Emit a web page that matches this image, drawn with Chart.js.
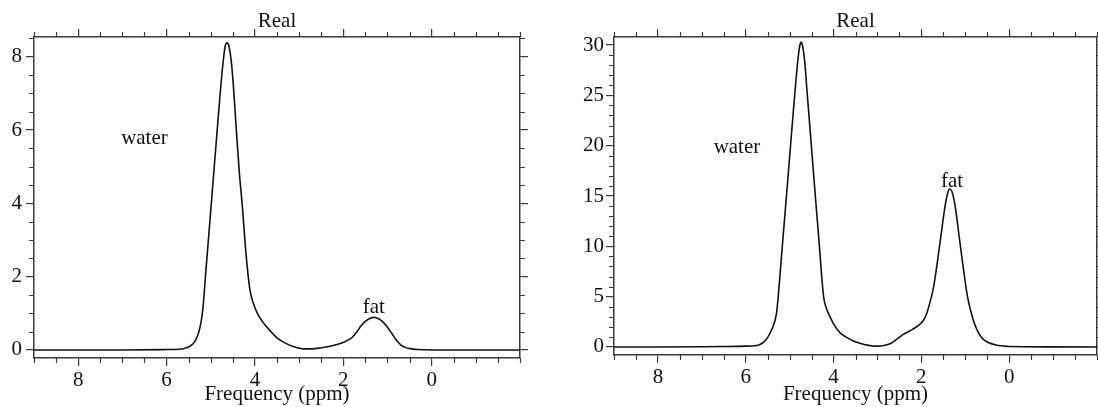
<!DOCTYPE html>
<html>
<head>
<meta charset="utf-8">
<script src="https://cdn.jsdelivr.net/npm/chart.js@4.4.1/dist/chart.umd.min.js"></script>
<style>
  body { margin: 0; background: #fff; }
  #wrap { position: relative; width: 1098px; height: 407px; }
  canvas { position: absolute; top: 0; }
  #leftChart { left: 0; }
  #rightChart { left: 549px; }
</style>
</head>
<body>
<div id="wrap">
  <canvas id="leftChart" width="549" height="407"></canvas>
  <canvas id="rightChart" width="549" height="407"></canvas>
</div>
<script>
// left spectrum (ppm vs real part)
const leftPpm = [9.0, 8.0, 7.0, 6.0, 5.7, 5.55, 5.45, 5.35, 5.28, 5.22, 5.18, 5.1, 5.0, 4.9, 4.8, 4.72, 4.67, 4.63, 4.59, 4.52, 4.42, 4.35, 4.29, 4.2, 4.12, 4.08, 4.0, 3.9, 3.75, 3.6, 3.5, 3.3, 3.1, 2.9, 2.7, 2.5, 2.3, 2.1, 1.9, 1.8, 1.7, 1.6, 1.5, 1.4, 1.31, 1.2, 1.1, 1.0, 0.9, 0.8, 0.7, 0.6, 0.45, 0.3, 0.0, -1.0, -2.0];
const leftReal = [0.0, 0.0, 0.0, 0.01, 0.02, 0.06, 0.12, 0.25, 0.45, 0.75, 1.1, 2.3, 3.8, 5.3, 6.8, 7.85, 8.3, 8.38, 8.3, 7.7, 6.0, 4.8, 4.0, 2.6, 1.7, 1.45, 1.15, 0.9, 0.65, 0.45, 0.33, 0.18, 0.08, 0.03, 0.03, 0.06, 0.1, 0.16, 0.26, 0.34, 0.48, 0.65, 0.78, 0.86, 0.89, 0.85, 0.76, 0.62, 0.45, 0.27, 0.14, 0.07, 0.03, 0.01, 0.0, 0.0, 0.0];

// right spectrum
const rightPpm = [9.0, 8.0, 7.0, 6.5, 6.0, 5.8, 5.7, 5.6, 5.5, 5.4, 5.3, 5.26, 5.2, 5.15, 5.08, 5.0, 4.92, 4.85, 4.8, 4.76, 4.74, 4.71, 4.66, 4.6, 4.5, 4.4, 4.32, 4.26, 4.22, 4.16, 4.08, 4.0, 3.85, 3.7, 3.55, 3.3, 3.1, 3.0, 2.85, 2.7, 2.55, 2.41, 2.2, 2.05, 1.96, 1.88, 1.8, 1.72, 1.64, 1.55, 1.46, 1.4, 1.36, 1.3, 1.23, 1.14, 1.05, 0.95, 0.82, 0.7, 0.6, 0.5, 0.3, 0.14, 0.0, -1.0, -2.0];
const rightReal = [0.0, 0.0, 0.02, 0.04, 0.08, 0.12, 0.2, 0.45, 0.95, 1.8, 3.3, 5.0, 8.2, 10.9, 14.6, 18.9, 23.2, 26.8, 29.0, 30.1, 30.3, 30.0, 28.5, 25.2, 19.7, 14.2, 9.9, 6.5, 4.8, 3.8, 3.0, 2.3, 1.4, 0.95, 0.6, 0.25, 0.1, 0.08, 0.15, 0.35, 0.8, 1.25, 1.75, 2.2, 2.6, 3.3, 4.5, 6.0, 8.3, 11.2, 14.0, 15.3, 15.7, 15.4, 14.0, 11.0, 8.0, 5.0, 2.7, 1.4, 0.8, 0.5, 0.2, 0.1, 0.04, 0.01, 0.0];

// tick labels
const xTicks = [8, 6, 4, 2, 0];
const leftYTicks = [0, 2, 4, 6, 8];
const rightYTicks = [0, 5, 10, 15, 20, 25, 30];

const titleText = "Real";
const xTitle = "Frequency (ppm)";

const ink = "#111";
const axisInk = "#3a3a3a";
const serif = "'Liberation Serif', 'Times New Roman', serif";

// short ticks between the labelled ones
const minorTicks = {
  id: "minorTicks",
  afterDraw(chart, args, opts) {
    const ctx = chart.ctx;
    ctx.save();
    ctx.strokeStyle = axisInk;
    ctx.lineWidth = 1.2;
    Object.values(chart.scales).forEach((s) => {
      const isX = s.axis === "x";
      const step = isX ? opts.xStep : opts.yStep;
      const majors = isX ? opts.xMajor : opts.yMajor;
      const lo = Math.min(s.min, s.max);
      const hi = Math.max(s.min, s.max);
      ctx.beginPath();
      for (let v = Math.ceil(lo / step) * step; v <= hi + 1e-9; v += step) {
        if (majors.some((m) => Math.abs(m - v) < 1e-6)) continue;
        const p = Math.round(s.getPixelForValue(v)) + 0.5;
        if (s.position === "left") { ctx.moveTo(s.right, p); ctx.lineTo(s.right - 5, p); }
        if (s.position === "right") { ctx.moveTo(s.left, p); ctx.lineTo(s.left + 5, p); }
        if (s.position === "top") { ctx.moveTo(p, s.bottom); ctx.lineTo(p, s.bottom - 5); }
        if (s.position === "bottom") { ctx.moveTo(p, s.top); ctx.lineTo(p, s.top + 5); }
      }
      ctx.stroke();
    });
    ctx.restore();
  }
};

// "water" / "fat" notes, placed in data units
const peakNotes = {
  id: "peakNotes",
  afterDatasetsDraw(chart, args, opts) {
    const ctx = chart.ctx;
    const { x, y } = chart.scales;
    ctx.save();
    ctx.fillStyle = ink;
    ctx.font = "21px " + serif;
    ctx.textAlign = "center";
    ctx.textBaseline = "middle";
    opts.notes.forEach((n) => {
      ctx.fillText(n.text, x.getPixelForValue(n.x), y.getPixelForValue(n.y));
    });
    ctx.restore();
  }
};

const makeChart = (id, ppm, real, cfg) => {
  const setTicks = (list) => (scale) => { scale.ticks = list.map((v) => ({ value: v })); };
  const grid = { drawOnChartArea: false, drawTicks: true, tickLength: 8, color: axisInk, lineWidth: 1.2 };
  const border = { display: true, color: axisInk, width: 1.5 };
  const tickFont = { family: serif, size: 21 };

  return new Chart(document.getElementById(id), {
    type: "scatter",
    data: {
      datasets: [{
        data: ppm.map((p, i) => ({ x: p, y: real[i] })),
        showLine: true,
        borderColor: ink,
        borderWidth: 1.6,
        pointRadius: 0,
        cubicInterpolationMode: "monotone",
        fill: false
      }]
    },
    options: {
      responsive: false,
      animation: false,
      devicePixelRatio: 1,
      layout: { padding: 0 },
      plugins: {
        legend: { display: false },
        tooltip: { enabled: false },
        minorTicks: { xStep: 0.5, yStep: cfg.yStep, xMajor: xTicks, yMajor: cfg.yTicks },
        peakNotes: { notes: cfg.notes }
      },
      scales: {
        x: {
          type: "linear", position: "bottom", min: -2, max: 9, reverse: true,
          afterBuildTicks: setTicks(xTicks),
          afterFit: (s) => { s.height = cfg.bottom; },
          grid, border,
          ticks: { font: tickFont, color: ink, padding: 2, maxRotation: 0 },
          title: { display: true, text: xTitle, font: tickFont, color: ink, padding: { top: 0, bottom: 0 } }
        },
        x2: {
          type: "linear", axis: "x", position: "top", min: -2, max: 9, reverse: true,
          afterBuildTicks: setTicks(xTicks),
          afterFit: (s) => { s.height = cfg.top; },
          grid, border,
          ticks: { display: false },
          title: { display: true, text: titleText, font: tickFont, color: ink, padding: { top: 9, bottom: 0 } }
        },
        y: {
          type: "linear", position: "left", min: cfg.yMin, max: cfg.yMax,
          afterBuildTicks: setTicks(cfg.yTicks),
          afterFit: (s) => { s.width = cfg.left; },
          grid, border,
          ticks: { font: tickFont, color: ink, padding: cfg.yPad }
        },
        y2: {
          type: "linear", axis: "y", position: "right", min: cfg.yMin, max: cfg.yMax,
          afterBuildTicks: setTicks(cfg.yTicks),
          afterFit: (s) => { s.width = cfg.right; },
          grid, border,
          ticks: { display: false }
        }
      }
    },
    plugins: [minorTicks, peakNotes]
  });
};

makeChart("leftChart", leftPpm, leftReal, {
  yMin: -0.22, yMax: 8.54, yTicks: leftYTicks, yStep: 0.5, yPad: 4,
  left: 34, right: 29, top: 37, bottom: 49,
  notes: [{ text: "water", x: 6.5, y: 5.78 }, { text: "fat", x: 1.31, y: 1.17 }]
});

makeChart("rightChart", rightPpm, rightReal, {
  yMin: -0.8, yMax: 30.8, yTicks: rightYTicks, yStep: 1, yPad: 2,
  left: 65, right: 1, top: 37, bottom: 52,
  notes: [{ text: "water", x: 6.2, y: 19.8 }, { text: "fat", x: 1.3, y: 16.4 }]
});
</script>
</body>
</html>
